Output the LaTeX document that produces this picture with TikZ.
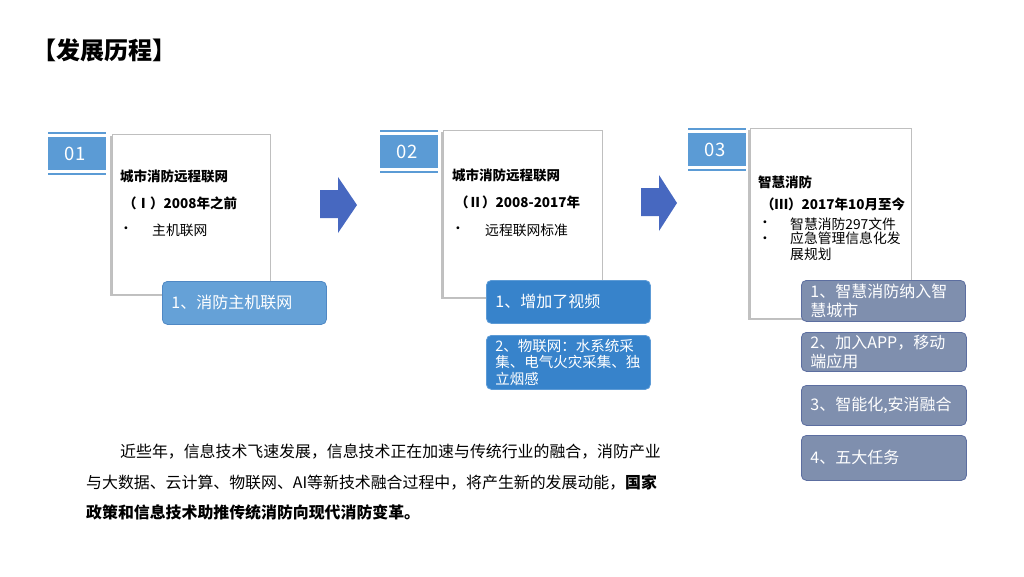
\documentclass[tikz,border=0pt]{standalone}
\usepackage{fontspec}
\setmainfont{Noto Sans CJK SC}
\usetikzlibrary{shadows}
\definecolor{numblue}{HTML}{5B9BD5}
\definecolor{boxa}{HTML}{65A1D7}
\definecolor{boxaline}{HTML}{4F88C4}
\definecolor{boxb}{HTML}{3783CB}
\definecolor{boxbline}{HTML}{5D9BD6}
\definecolor{boxc}{HTML}{7F8FAE}
\definecolor{boxcline}{HTML}{5C6EA0}
\definecolor{arrowblue}{HTML}{4768C0}
\tikzset{
  card/.style={draw=black!25, line width=0.6pt, fill=white, drop shadow={shadow xshift=-2pt, shadow yshift=-2pt, fill=black!35, opacity=0.7}},
  tbox/.style={rounded corners=5pt, line width=0.8pt, text=white, font=\fontsize{16}{19}\selectfont, align=left, anchor=north west, inner xsep=9pt, inner ysep=2pt},
  boxa/.style={tbox, fill=boxa, draw=boxaline},
  boxb/.style={tbox, fill=boxb, draw=boxbline},
  boxc/.style={tbox, fill=boxc, draw=boxcline},
  hd/.style={anchor=west, font=\bfseries\fontsize{13.5}{16}\selectfont, inner sep=0pt},
  bl/.style={anchor=west, font=\fontsize{13.8}{16}\selectfont, inner sep=0pt},
  para/.style={anchor=west, font=\fontsize{15.9}{18}\selectfont, inner sep=0pt},
  numtxt/.style={text=white, font=\fontsize{18.5}{20}\selectfont, inner sep=0pt},
  arr/.style={fill=arrowblue, draw=none}
}
\begin{document}
\begin{tikzpicture}[x=1pt,y=-1pt]
\useasboundingbox (0,0) rectangle (1024,576);
\node[anchor=west, font=\bfseries\fontsize{24}{28}\selectfont, inner sep=0pt] (title) at (32,50) {【发展历程】};

% number boxes
\foreach \n/\x/\y in {01/48/133, 02/380/131, 03/688/129}{
  \fill[numblue] (\x,\y+4) rectangle (\x+58,\y+37);
  \draw[numblue, line width=1.5pt] (\x,\y) -- (\x+58,\y);
  \draw[numblue, line width=1.5pt] (\x,\y+41) -- (\x+58,\y+41);
  \node[numtxt] (num\n) at (\x+27,\y+20.5) {\n};
}

% cards
\node[card, minimum width=158pt, minimum height=160pt, anchor=north west] (card1) at (112,134) {};
\node[card, minimum width=159pt, minimum height=167pt, anchor=north west] (card2) at (443,130) {};
\node[card, minimum width=161pt, minimum height=190pt, anchor=north west] (card3) at (750,128) {};

% card 1 text
\node[hd] (c1a) at (120,176) {城市消防远程联网};
\node[hd] (c1b) at (123,203) {（Ⅰ）2008年之前};
\node[bl] (c1d) at (119,230) {•};
\node[bl] (c1c) at (152,230) {主机联网};

% card 2 text
\node[hd] (c2a) at (452,175) {城市消防远程联网};
\node[hd] (c2b) at (455,202) {（Ⅱ）2008-2017年};
\node[bl] (c2d) at (451,230) {•};
\node[bl] (c2c) at (485,230) {远程联网标准};

% card 3 text
\node[hd] (c3a) at (758,182) {智慧消防};
\node[hd] (c3b) at (761,204) {（Ⅲ）2017年10月至今};
\node[bl] (c3d1) at (758,224) {•};
\node[bl] (c3c1) at (790,224) {智慧消防297文件};
\node[bl] (c3d2) at (758,240) {•};
\node[bl, align=left, anchor=north west, font=\fontsize{13.8}{16}\selectfont] (c3c2) at (790,232) {应急管理信息化发\\展规划};

% blue boxes
\node[boxa, minimum width=164pt, text width=146pt, minimum height=43pt] (a1) at (162,281) {1、消防主机联网};
\node[boxb, minimum width=164pt, text width=146pt, minimum height=43pt] (b1) at (486,280) {1、增加了视频};
\node[boxb, minimum width=164pt, text width=146pt, minimum height=54pt, font=\fontsize{14.5}{16.5}\selectfont, inner ysep=1pt] (b2) at (486,335) {2、物联网：水系统采\\集、电气火灾采集、独\\立烟感};

\node[boxc, minimum width=164pt, text width=146pt, minimum height=41pt, font=\fontsize{16}{19}\selectfont, inner ysep=1pt] (d1) at (801,280) {1、智慧消防纳入智\\慧城市};
\node[boxc, minimum width=165pt, text width=147pt, minimum height=39pt, font=\fontsize{16}{18.5}\selectfont, inner ysep=1pt] (d2) at (801,332) {2、加入APP，移动\\端应用};
\node[boxc, minimum width=165pt, text width=147pt, minimum height=40pt] (d3) at (801,385) {3、智能化,安消融合};
\node[boxc, minimum width=165pt, text width=147pt, minimum height=45pt] (d4) at (801,435) {4、五大任务};

% arrows
\fill[arr] (320,190) -- (338,190) -- (338,177) -- (357,205) -- (338,233) -- (338,218) -- (320,218) -- cycle;
\fill[arr] (641,188) -- (659,188) -- (659,175) -- (677,203) -- (659,231) -- (659,216) -- (641,216) -- cycle;

% paragraph
\node[para] (p1) at (120,452) {近些年，信息技术飞速发展，信息技术正在加速与传统行业的融合，消防产业};
\node[para] (p2) at (86,482) {与大数据、云计算、物联网、AI等新技术融合过程中，将产生新的发展动能，\textbf{国家}};
\node[para, font=\bfseries\fontsize{15.9}{18}\selectfont] (p3) at (86,512) {政策和信息技术助推传统消防向现代消防变革。};
\end{tikzpicture}
\end{document}
